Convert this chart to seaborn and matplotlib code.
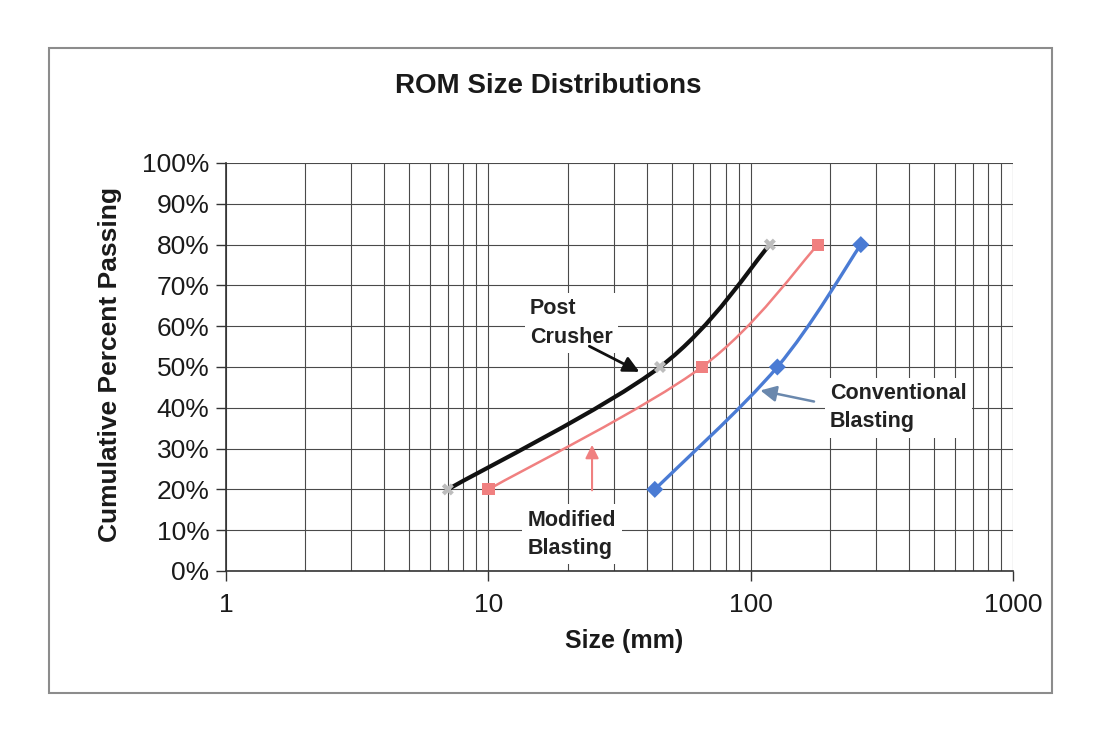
import numpy as np
import pandas as pd
import seaborn as sns
import matplotlib.pyplot as plt
from matplotlib.path import Path
from matplotlib.patches import PathPatch, Rectangle
from matplotlib.ticker import FuncFormatter, LogLocator, NullFormatter

# data
passing = [20, 50, 80]
post_crusher = [7, 45, 118]
modified = [10, 65, 180]
conventional = [43, 126, 262]

sns.set_theme(style="white")
plt.rcParams['font.family'] = ['Liberation Sans', 'DejaVu Sans']

df = pd.DataFrame({
    "size": post_crusher + modified + conventional,
    "passing": passing * 3,
    "series": ["Post Crusher"] * 3 + ["Modified Blasting"] * 3 + ["Conventional Blasting"] * 3,
})


def smooth_path(xs, ys):
    # excel-like smoothed line: catmull-rom as cubic bezier in (log x, y)
    lx = np.log10(xs)
    pts = np.column_stack([lx, ys])
    n = len(pts)
    verts = [pts[0]]
    codes = [Path.MOVETO]
    for i in range(n - 1):
        p0 = pts[max(i - 1, 0)]
        p1 = pts[i]
        p2 = pts[i + 1]
        p3 = pts[min(i + 2, n - 1)]
        verts += [p1 + (p2 - p0) / 6, p2 - (p3 - p1) / 6, p2]
        codes += [Path.CURVE4] * 3
    verts = np.array(verts)
    verts[:, 0] = 10 ** verts[:, 0]
    return Path(verts, codes)


fig = plt.figure(figsize=(10.98, 7.34), dpi=100)
ax = fig.add_axes([226 / 1098, 1 - 571 / 734, (1013.5 - 226) / 1098, (571 - 163) / 734])
ax.set_xscale("log")
ax.set_xlim(1, 1000)
ax.set_ylim(0, 100)

# chart border
fig.patches.append(Rectangle((49 / 1098, 1 - 693 / 734), (1052 - 49) / 1098, (693 - 48) / 734,
                             transform=fig.transFigure, fill=False, ec="#8c8c8c", lw=1.5))

line_styles = {
    "Modified Blasting": ("#f08080", 1.8),
    "Conventional Blasting": ("#4a7bd4", 2.4),
    "Post Crusher": ("#111111", 3.0),
}
for name, vals in [("Modified Blasting", modified), ("Conventional Blasting", conventional),
                   ("Post Crusher", post_crusher)]:
    col, lw = line_styles[name]
    ax.add_patch(PathPatch(smooth_path(vals, passing), fill=False, ec=col, lw=lw, zorder=3))

sns.scatterplot(data=df, x="size", y="passing", hue="series", style="series",
                palette={"Post Crusher": "#bdbdbd", "Modified Blasting": "#f08080",
                         "Conventional Blasting": "#4a7bd4"},
                markers={"Post Crusher": "X", "Modified Blasting": "s", "Conventional Blasting": "D"},
                s=75, linewidth=0, legend=False, zorder=4, ax=ax)

# grid
ax.xaxis.set_major_locator(LogLocator(base=10, numticks=10))
ax.xaxis.set_minor_locator(LogLocator(base=10, subs=np.arange(2, 10), numticks=50))
ax.xaxis.set_minor_formatter(NullFormatter())
ax.xaxis.set_major_formatter(FuncFormatter(lambda v, p: f"{v:g}"))
ax.set_yticks(range(0, 101, 10))
ax.yaxis.set_major_formatter(FuncFormatter(lambda v, p: f"{v:.0f}%"))
ax.grid(True, which="both", axis="x", color="#4a4a4a", lw=0.8)
ax.grid(True, which="major", axis="y", color="#4a4a4a", lw=0.8)
ax.set_axisbelow(True)

for s in ["top", "right"]:
    ax.spines[s].set_visible(False)
for s in ["left", "bottom"]:
    ax.spines[s].set_color("#333333")
    ax.spines[s].set_linewidth(1.2)

ax.tick_params(axis="both", which="major", direction="out", length=7, width=1, color="#333333",
               labelsize=19, labelcolor="#1a1a1a", left=True, bottom=True)
ax.tick_params(axis="x", which="minor", length=0)
ax.tick_params(axis="x", which="major", pad=9)
ax.tick_params(axis="y", which="major", pad=5)
ax.set_xlabel("")
ax.set_ylabel("")

fig.text(548 / 1098, 1 - 86 / 734, "ROM Size Distributions", ha="center", va="center",
         fontsize=20, fontweight="bold", color="#1a1a1a")
fig.text(624 / 1098, 1 - 641 / 734, "Size (mm)", ha="center", va="center",
         fontsize=18, fontweight="bold", color="#1a1a1a")
fig.text(110 / 1098, 1 - 365 / 734, "Cumulative Percent Passing", ha="center", va="center",
         rotation=90, fontsize=19, fontweight="bold", color="#1a1a1a")

# annotations
box = dict(boxstyle="square,pad=0.25", fc="white", ec="none")
txt = dict(ha="left", va="center", fontsize=15.5, fontweight="bold", color="#222222",
           linespacing=1.45, bbox=box, zorder=5)
ax.text(14.4, 60.8, "Post\nCrusher", **txt)
ax.text(200, 40, "Conventional\nBlasting", **txt)
ax.text(14.1, 9.0, "Modified\nBlasting", **txt)

ax.annotate("", xy=(38.4, 48.5), xytext=(23.7, 55.4),
            arrowprops=dict(arrowstyle="-|>", color="#111111", lw=2, mutation_scale=24), zorder=6)
ax.annotate("", xy=(106, 44.4), xytext=(178, 41.4),
            arrowprops=dict(arrowstyle="-|>", color="#6a88ad", lw=1.8, mutation_scale=24), zorder=6)
ax.annotate("", xy=(24.8, 31.6), xytext=(24.8, 19.1),
            arrowprops=dict(arrowstyle="-|>", color="#f08080", lw=1.5, mutation_scale=20), zorder=6)

fig.savefig("out.png", dpi=100, facecolor="white")
